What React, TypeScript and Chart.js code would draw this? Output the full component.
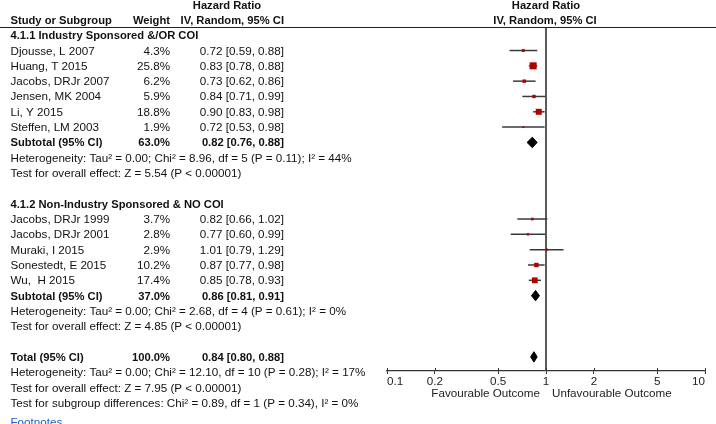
import { useEffect, useRef } from "react";
import { Chart, registerables } from "chart.js";

Chart.register(...registerables);

// ---- data ----
const group1Title = "4.1.1 Industry Sponsored &/OR COI";
const group1Studies = ["Djousse, L 2007", "Huang, T 2015", "Jacobs, DRJr 2007", "Jensen, MK 2004", "Li, Y 2015", "Steffen, LM 2003"];
const group1Weights = [4.3, 25.8, 6.2, 5.9, 18.8, 1.9];
const group1HR = [0.72, 0.83, 0.73, 0.84, 0.9, 0.72];
const group1Lower = [0.59, 0.78, 0.62, 0.71, 0.83, 0.53];
const group1Upper = [0.88, 0.88, 0.86, 0.99, 0.98, 0.98];

const group2Title = "4.1.2 Non-Industry Sponsored & NO COI";
const group2Studies = ["Jacobs, DRJr 1999", "Jacobs, DRJr 2001", "Muraki, I 2015", "Sonestedt, E 2015", "Wu,  H 2015"];
const group2Weights = [3.7, 2.8, 2.9, 10.2, 17.4];
const group2HR = [0.82, 0.77, 1.01, 0.87, 0.85];
const group2Lower = [0.66, 0.6, 0.79, 0.77, 0.78];
const group2Upper = [1.02, 0.99, 1.29, 0.98, 0.93];

const pooledLabels = ["Subtotal (95% CI)", "Subtotal (95% CI)", "Total (95% CI)"];
const pooledWeights = [63.0, 37.0, 100.0];
const pooledHR = [0.82, 0.86, 0.84];
const pooledLower = [0.76, 0.81, 0.8];
const pooledUpper = [0.88, 0.91, 0.88];

const group1Notes = [
  "Heterogeneity: Tau\u00b2 = 0.00; Chi\u00b2 = 8.96, df = 5 (P = 0.11); I\u00b2 = 44%",
  "Test for overall effect: Z = 5.54 (P < 0.00001)",
];
const group2Notes = [
  "Heterogeneity: Tau\u00b2 = 0.00; Chi\u00b2 = 2.68, df = 4 (P = 0.61); I\u00b2 = 0%",
  "Test for overall effect: Z = 4.85 (P < 0.00001)",
];
const totalNotes = [
  "Heterogeneity: Tau\u00b2 = 0.00; Chi\u00b2 = 12.10, df = 10 (P = 0.28); I\u00b2 = 17%",
  "Test for overall effect: Z = 7.95 (P < 0.00001)",
  "Test for subgroup differences: Chi\u00b2 = 0.89, df = 1 (P = 0.34), I\u00b2 = 0%",
];

const xTicks = [0.1, 0.2, 0.5, 1, 2, 5, 10];
const favourLeft = "Favourable Outcome";
const favourRight = "Unfavourable Outcome";

// ---- row layout (row index on the y scale) ----
const g1Header = 0;
const g1Rows = group1Studies.map((_, i) => 1 + i);
const g2Header = 11;
const g2Rows = group2Studies.map((_, i) => 12 + i);
const pooledRows = [7, 17, 21];
const Y_MIN = -0.535;
const Y_MAX = 21.92;

const FONT = '"Liberation Sans", Arial, sans-serif';
const FS = 11.65;
const FSB = 11.2;
const SQUARE = "#b00000";
const WHISKER = "#3a3a3a";

const fmtCI = (h: number, l: number, u: number) => `${h.toFixed(2)} [${l.toFixed(2)}, ${u.toFixed(2)}]`;
const fmtW = (w: number) => `${w.toFixed(1)}%`;

export default function App() {
  const ref = useRef<HTMLCanvasElement | null>(null);

  useEffect(() => {
    if (!ref.current) return;

    const allHR = [...group1HR, ...group2HR];
    const allLo = [...group1Lower, ...group2Lower];
    const allHi = [...group1Upper, ...group2Upper];
    const allW = [...group1Weights, ...group2Weights];
    const allRows = [...g1Rows, ...g2Rows];

    const squares = {
      type: "scatter",
      data: allHR.map((h, i) => ({ x: h, y: allRows[i] })),
      pointStyle: "rect",
      pointRadius: allW.map((w) => (1.38 * Math.sqrt(w)) / 1.414),
      pointHoverRadius: allW.map((w) => (1.38 * Math.sqrt(w)) / 1.414),
      backgroundColor: SQUARE,
      borderColor: SQUARE,
      pointBorderWidth: 0,
      showLine: false,
      order: 0,
    };

    const whiskers = allHR.map((_, i) => ({
      type: "scatter",
      data: [
        { x: allLo[i], y: allRows[i] },
        { x: allHi[i], y: allRows[i] },
      ],
      showLine: true,
      borderColor: WHISKER,
      borderWidth: 1.5,
      pointRadius: 0,
      fill: false,
      order: 1,
    }));

    const dh = 0.34;
    const diamonds = pooledHR.map((h, i) => ({
      type: "scatter",
      data: [
        { x: pooledLower[i], y: pooledRows[i] },
        { x: h, y: pooledRows[i] - dh },
        { x: pooledUpper[i], y: pooledRows[i] },
        { x: h, y: pooledRows[i] + dh },
        { x: pooledLower[i], y: pooledRows[i] },
      ],
      showLine: true,
      borderColor: "#000",
      backgroundColor: "#000",
      borderWidth: 1,
      pointRadius: 0,
      fill: "shape",
      order: 0,
    }));

    const nullLine = {
      type: "scatter",
      data: [
        { x: 1, y: Y_MIN },
        { x: 1, y: Y_MAX },
      ],
      showLine: true,
      borderColor: "#444",
      borderWidth: 1,
      pointRadius: 0,
      fill: false,
      order: 2,
    };

    const textPlugin = {
      id: "forestText",
      afterDraw(chart: any) {
        const ctx = chart.ctx as CanvasRenderingContext2D;
        const ys = chart.scales.y;
        const xs = chart.scales.x;
        const Y = (r: number) => ys.getPixelForValue(r);
        const xOne = xs.getPixelForValue(1);
        const area = chart.chartArea;
        ctx.save();
        ctx.textBaseline = "middle";
        const t = (s: string, x: number, r: number, align: CanvasTextAlign, bold = false, color = "#111") => {
          ctx.font = bold ? `bold ${FSB}px ${FONT}` : `${FS}px ${FONT}`;
          ctx.fillStyle = color;
          ctx.textAlign = align;
          ctx.fillText(s, x, Math.round(Y(r)) + 0.5);
        };
        const L = 10.5;
        const WX = 170;
        const CX = 284;

        // headers
        t("Hazard Ratio", 227, -2, "center", true);
        t("Hazard Ratio", xOne, -2, "center", true);
        t("Study or Subgroup", L, -1, "left", true);
        t("Weight", WX, -1, "right", true);
        t("IV, Random, 95% CI", CX, -1, "right", true);
        t("IV, Random, 95% CI", xOne - 1, -1, "center", true);

        // header rule
        ctx.strokeStyle = "#222";
        ctx.lineWidth = 1;
        ctx.beginPath();
        ctx.moveTo(0, Math.round(area.top) + 0.5);
        ctx.lineTo(chart.width, Math.round(area.top) + 0.5);
        ctx.stroke();

        // group 1
        t(group1Title, L, g1Header, "left", true);
        group1Studies.forEach((s, i) => {
          t(s, L, g1Rows[i], "left");
          t(fmtW(group1Weights[i]), WX, g1Rows[i], "right");
          t(fmtCI(group1HR[i], group1Lower[i], group1Upper[i]), CX, g1Rows[i], "right");
        });
        // group 2
        t(group2Title, L, g2Header, "left", true);
        group2Studies.forEach((s, i) => {
          t(s, L, g2Rows[i], "left");
          t(fmtW(group2Weights[i]), WX, g2Rows[i], "right");
          t(fmtCI(group2HR[i], group2Lower[i], group2Upper[i]), CX, g2Rows[i], "right");
        });
        // pooled
        pooledLabels.forEach((s, i) => {
          t(s, L, pooledRows[i], "left", true);
          t(fmtW(pooledWeights[i]), WX, pooledRows[i], "right", true);
          t(fmtCI(pooledHR[i], pooledLower[i], pooledUpper[i]), CX, pooledRows[i], "right", true);
        });
        group1Notes.forEach((s, i) => t(s, L, pooledRows[0] + 1 + i, "left"));
        group2Notes.forEach((s, i) => t(s, L, pooledRows[1] + 1 + i, "left"));
        totalNotes.forEach((s, i) => t(s, L, pooledRows[2] + 1 + i, "left"));
        t("Footnotes", L, pooledRows[2] + 4.25, "left", false, "#1f5fbf");

        // upward halves of the axis ticks
        ctx.strokeStyle = "#333";
        ctx.lineWidth = 1;
        const b = Math.round(area.bottom);
        xTicks.forEach((v) => {
          const x = Math.round(xs.getPixelForValue(v)) + 0.5;
          ctx.beginPath();
          ctx.moveTo(x, b - 3);
          ctx.lineTo(x, b);
          ctx.stroke();
        });

        // favour labels
        ctx.font = `${FS}px ${FONT}`;
        ctx.fillStyle = "#222";
        ctx.textAlign = "right";
        ctx.fillText(favourLeft, xOne - 6, b + 23);
        ctx.textAlign = "left";
        ctx.fillText(favourRight, xOne + 6, b + 23);
        ctx.restore();
      },
    };

    const chart = new Chart(ref.current, {
      type: "scatter",
      data: { datasets: [squares, ...diamonds, ...whiskers, nullLine] as any },
      options: {
        responsive: false,
        animation: false,
        events: [],
        layout: { padding: { left: 387, right: 11, top: 27, bottom: 0 } },
        plugins: { legend: { display: false }, tooltip: { enabled: false } },
        scales: {
          x: {
            type: "logarithmic",
            min: 0.1,
            max: 10,
            afterBuildTicks: (axis: any) => {
              axis.ticks = xTicks.map((v) => ({ value: v }));
            },
            afterFit: (scale: any) => {
              scale.height = 53;
            },
            border: { display: true, color: "#333", width: 1.2 },
            grid: { display: true, drawOnChartArea: false, drawTicks: true, tickLength: 3, color: "#333" },
            ticks: {
              autoSkip: false,
              maxRotation: 0,
              align: "inner",
              padding: 1,
              color: "#222",
              font: { family: FONT, size: FS },
              callback: (v: any) => (xTicks.includes(Number(v)) ? String(v) : ""),
            },
          },
          y: {
            type: "linear",
            reverse: true,
            min: Y_MIN,
            max: Y_MAX,
            display: false,
          },
        },
      } as any,
      plugins: [textPlugin],
    });
    return () => chart.destroy();
  }, []);

  return (
    <div style={{ position: "fixed", left: 0, top: 0, width: 716, height: 424, background: "#fff" }}>
      <canvas ref={ref} width={716} height={424} style={{ display: "block" }} />
    </div>
  );
}
